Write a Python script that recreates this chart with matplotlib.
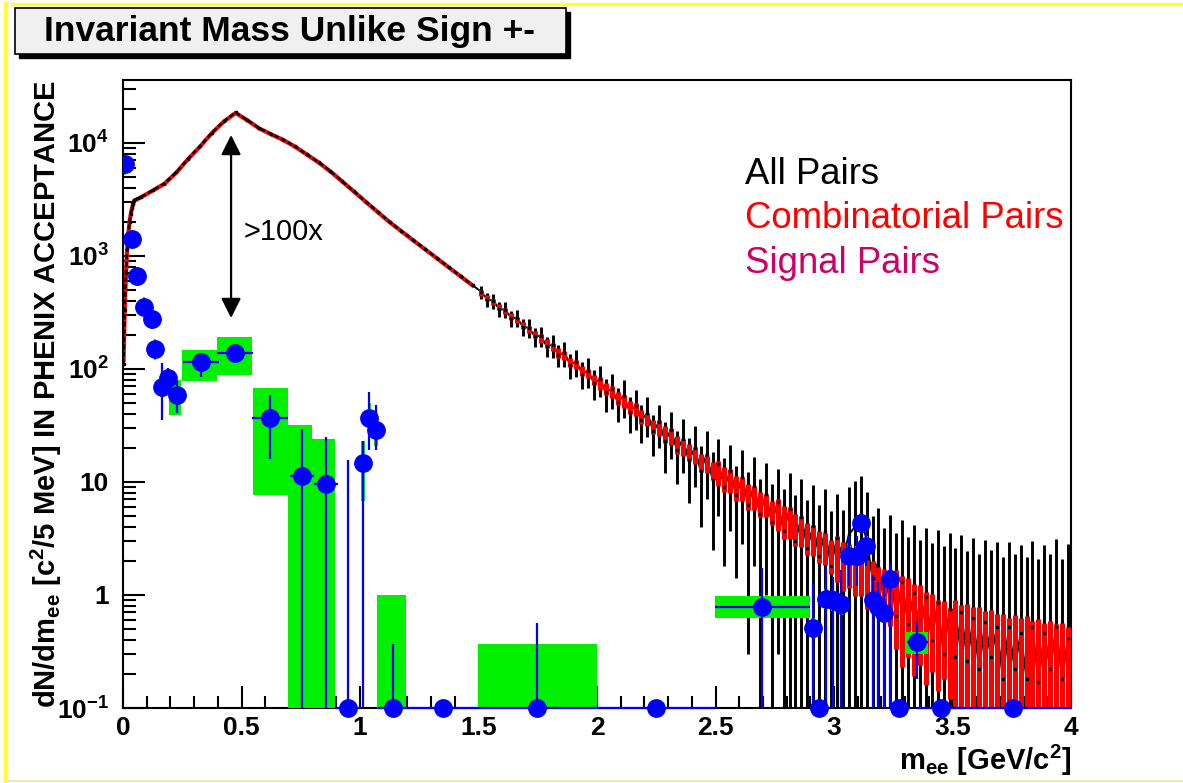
import numpy as np
import matplotlib
matplotlib.use("Agg")
import matplotlib.pyplot as plt
from matplotlib.patches import Rectangle
from matplotlib.lines import Line2D
from matplotlib.ticker import MultipleLocator, NullFormatter, LogLocator

plt.rcParams.update({
    "font.family": ["Liberation Sans", "DejaVu Sans"],
    "mathtext.fontset": "custom",
    "mathtext.rm": "Liberation Sans:bold",
    "mathtext.bf": "Liberation Sans:bold",
    "mathtext.it": "Liberation Sans:bold",
    "mathtext.default": "rm",
})

# ---------------------------------------------------------------- data
# low-mass part (smooth): bin centres [GeV/c^2]
low_mass = [0.0025, 0.0075, 0.0125, 0.0175, 0.0225, 0.0275, 0.0325, 0.0375, 0.0425, 0.0475,
            0.075, 0.125, 0.175, 0.225, 0.275, 0.325, 0.375, 0.425, 0.475, 0.525,
            0.575, 0.625, 0.675, 0.725, 0.775, 0.825, 0.875, 0.925, 0.975, 1.025,
            1.075, 1.125, 1.175, 1.225, 1.275, 1.325, 1.375, 1.425, 1.475]
all_low = [110, 330, 700, 1150, 1600, 2000, 2350, 2650, 2900, 3100,
           3310, 3800, 4370, 5500, 7240, 9330, 12300, 15500, 18600, 15900,
           13500, 12000, 10700, 9330, 7940, 6760, 5620, 4570, 3720, 3020,
           2460, 2000, 1660, 1380, 1150, 955, 794, 661, 550]
comb_low = [120, 350, 690, 1130, 1580, 1980, 2330, 2630, 2880, 3080,
            3290, 3780, 4350, 5460, 7200, 9280, 12200, 15400, 18400, 15800,
            13400, 11900, 10650, 9280, 7900, 6720, 5590, 4550, 3700, 3000,
            2440, 1990, 1650, 1370, 1140, 950, 790, 658, 548]

# high-mass part (noisy), 25 MeV bins from 1.5 to 4.0
hi_mass = np.arange(1.5125, 4.0, 0.025)
all_hi = [480, 410, 402, 338, 335, 282, 284, 236, 231, 194,
          196, 160, 163, 133, 139, 109, 116, 91, 96, 75,
          81, 62, 67, 51, 58, 42, 47, 35, 41, 28,
          34, 23, 29, 19, 24, 15.5, 20, 12.5, 17.5, 10.5,
          14.5, 9.0, 12.5, 7.6, 11.0, 6.3, 9.2, 5.2, 7.8, 4.4,
          6.6, 3.7, 5.8, 3.0, 4.9, 2.6, 4.1, 2.2, 3.7, 1.8,
          3.2, 2.1, 3.4, 4.0, 4.8, 3.1, 1.4, 2.0, 0.8, 1.6,
          0.65, 1.3, 0.55, 1.05, 0.45, 0.95, 0.4, 0.85, 0.3, 0.75,
          0.28, 0.7, 0.26, 0.62, 0.22, 0.58, 0.28, 0.52, 0.18, 0.52,
          0.22, 0.46, 0.18, 0.52, 0.17, 0.46, 0.22, 0.52, 0.18, 0.42]
all_hi_err = [62, 55, 60, 50, 55, 46, 50, 41, 44, 38,
              40, 33, 37, 30, 34, 27, 31, 24, 28, 22,
              25, 20, 23, 17, 21, 15, 18, 13, 16, 11,
              14, 11, 13, 9.5, 12, 9, 11, 8.5, 10.5, 8,
              9.5, 7.2, 8.8, 6.2, 8.2, 6.0, 7.4, 5.5, 6.8, 5.1,
              6.3, 4.9, 6.1, 4.6, 5.7, 4.3, 5.3, 4.0, 5.0, 3.7,
              4.6, 3.6, 5.6, 6.2, 6.6, 5.1, 3.6, 3.9, 3.1, 3.5,
              2.9, 3.3, 2.7, 3.1, 2.6, 3.0, 2.5, 2.9, 2.4, 2.8,
              2.3, 2.7, 2.2, 2.6, 2.1, 2.5, 2.2, 2.4, 2.0, 2.4,
              2.1, 2.3, 2.0, 2.5, 1.9, 2.3, 2.1, 2.6, 1.9, 2.4]
comb_hi = [470, 425, 392, 352, 326, 293, 271, 243, 226, 202,
           188, 168, 157, 139, 131, 115, 109, 96, 91, 80,
           75, 67, 63, 55, 52, 46, 44, 38, 36, 31,
           30.5, 26.5, 25.5, 21.5, 20.5, 18.5, 17.5, 15.0, 14.6, 12.7,
           12.3, 10.8, 10.5, 9.1, 8.9, 7.6, 7.5, 6.5, 6.4, 5.5,
           5.4, 4.6, 4.55, 3.95, 3.8, 3.3, 3.2, 2.8, 2.7, 2.3,
           2.3, 2.0, 2.0, 1.75, 1.7, 1.4, 1.4, 1.2, 1.18, 1.0,
           1.0, 0.85, 0.85, 0.72, 0.73, 0.61, 0.62, 0.52, 0.53, 0.44,
           0.46, 0.40, 0.43, 0.38, 0.40, 0.35, 0.38, 0.33, 0.35, 0.30,
           0.33, 0.29, 0.32, 0.27, 0.30, 0.26, 0.29, 0.25, 0.28, 0.24]
comb_hi_err = [30, 28, 25, 23, 21, 20, 18, 17, 16, 14,
               17, 15, 14, 13, 12, 11, 10, 9.5, 8.5, 8,
               9.5, 8.8, 8.1, 7.3, 6.8, 6.2, 5.8, 5.2, 4.7, 4.3,
               5.0, 4.5, 4.3, 3.8, 3.5, 3.3, 3.0, 2.7, 2.5, 2.3,
               3.0, 2.7, 2.5, 2.3, 2.1, 1.9, 1.8, 1.6, 1.5, 1.35,
               1.7, 1.5, 1.4, 1.25, 1.15, 1.05, 1.0, 0.9, 0.84, 0.76,
               1.0, 0.92, 0.85, 0.77, 0.72, 0.65, 0.6, 0.56, 0.51, 0.47,
               0.67, 0.62, 0.57, 0.53, 0.49, 0.45, 0.41, 0.38, 0.35, 0.32,
               0.44, 0.42, 0.41, 0.40, 0.38, 0.37, 0.36, 0.35, 0.33, 0.32,
               0.34, 0.34, 0.33, 0.32, 0.31, 0.31, 0.30, 0.30, 0.29, 0.28]

# signal pairs (blue points) with non-zero yield
sig_mass = [0.008, 0.039, 0.060, 0.089, 0.121, 0.135, 0.163, 0.191, 0.226, 0.329,
            0.473, 0.620, 0.754, 0.857, 1.014, 1.039, 1.067, 2.697, 2.910, 2.966,
            2.997, 3.028, 3.065, 3.096, 3.112, 3.137, 3.163, 3.187, 3.212, 3.236, 3.351]
sig_val = [6500, 1400, 660, 355, 275, 150, 69, 83, 59, 115,
           138, 37, 11.2, 9.5, 14.6, 37, 29, 0.79, 0.51, 0.93,
           0.90, 0.83, 2.2, 2.2, 4.3, 2.7, 0.90, 0.79, 0.69, 1.38, 0.38]
sig_err_up = [500, 150, 70, 45, 35, 25, 43, 18, 19, 23,
              24, 22, 18, 15.5, 8.4, 26, 19, 0.93, 0.75, 0.85,
              0.55, 0.83, 1.1, 1.1, 1.0, 0.8, 0.6, 0.5, 0.5, 0.5, 0.2]
sig_err_dn = [500, 150, 70, 45, 35, 25, 34, 18, 18, 30,
              18, 21, 11.2, 9.5, 14.6, 18, 10, 0.79, 0.51, 0.93,
              0.90, 0.83, 1.0, 1.0, 0.8, 0.9, 0.90, 0.79, 0.69, 1.38, 0.2]
sig_xerr = [0.004, 0.005, 0.005, 0.005, 0.005, 0.005, 0.005, 0.005, 0.01, 0.077,
            0.075, 0.075, 0.05, 0.05, 0.008, 0.008, 0.008, 0.2, 0.008, 0.008,
            0.008, 0.008, 0.008, 0.008, 0.008, 0.008, 0.008, 0.008, 0.008, 0.008, 0.045]

# signal bins with zero yield (drawn on the lower frame)
zero_mass = [0.950, 1.138, 1.349, 1.748, 2.250, 2.937, 3.276, 3.450, 3.754]
zero_xerr = [0.05, 0.062, 0.15, 0.25, 0.25, 0.035, 0.04, 0.1, 0.25]
zero_err_up = [15.5, 0.27, 0.0, 0.46, 0.0, 0.0, 0.0, 0.0, 0.0]

# systematic boxes (green): x range and y range
sys_x0 = [0.003, 0.034, 0.055, 0.084, 0.116, 0.130, 0.158, 0.186, 0.195, 0.248,
          0.397, 0.547, 0.698, 0.796, 1.005, 1.032, 1.060, 1.073, 1.497, 2.498,
          2.902, 2.958, 2.989, 3.020, 3.057, 3.088, 3.104, 3.129, 3.155, 3.179,
          3.204, 3.228, 3.300]
sys_x1 = [0.013, 0.044, 0.065, 0.094, 0.126, 0.140, 0.168, 0.196, 0.245, 0.395,
          0.545, 0.698, 0.797, 0.895, 1.022, 1.046, 1.074, 1.194, 2.000, 2.899,
          2.918, 2.974, 3.005, 3.036, 3.073, 3.104, 3.120, 3.145, 3.171, 3.195,
          3.220, 3.244, 3.395]
sys_lo = [5200, 1150, 540, 290, 225, 120, 56, 68, 39, 78,
          89, 7.7, 0, 0, 6.8, 26, 21, 0, 0, 0.62,
          0.42, 0.75, 0.72, 0.66, 1.8, 1.8, 3.6, 2.2, 0.75, 0.65,
          0.57, 1.15, 0.30]
sys_hi = [7800, 1700, 800, 430, 330, 185, 84, 100, 80, 148,
          190, 68, 31.6, 24, 23, 50, 38, 1.0, 0.37, 0.98,
          0.62, 1.12, 1.08, 1.0, 2.7, 2.7, 5.2, 3.3, 1.05, 0.95,
          0.82, 1.65, 0.47]

# ---------------------------------------------------------------- figure
W, H = 1183, 783
fig = plt.figure(figsize=(W / 100, H / 100), dpi=100)
ax = fig.add_axes([123 / W, 1 - 708 / H, 948 / W, 628 / H])
ax.set_yscale("log", nonpositive="clip")
ax.set_xlim(0, 4)
ax.set_ylim(0.1, 3.6e4)

FLOOR = 0.02

# all pairs (black) and combinatorial pairs (red)
ax.plot(low_mass, comb_low, color="red", lw=3.0, zorder=2)
ax.plot(low_mass, all_low, color="black", lw=1.8, zorder=3,
        marker="s", ms=1.8, ls=(0, (2, 1)))
ax.plot([0.0425, 0.0475, 0.075], [2900, 3100, 3310], color="black", lw=2.2, zorder=3)

a_hi, a_err = np.array(all_hi), np.array(all_hi_err)
c_hi, c_err = np.array(comb_hi), np.array(comb_hi_err)
ax.vlines(hi_mass, np.maximum(a_hi - a_err, FLOOR), a_hi + a_err,
          color="black", lw=2.1, zorder=2)
ax.plot(np.r_[low_mass[-1], hi_mass], np.r_[all_low[-1], a_hi],
        color="black", lw=1.4, zorder=2)
ax.vlines(hi_mass, np.maximum(c_hi - c_err, FLOOR), c_hi + c_err,
          color="red", lw=3.6, zorder=3)
ax.plot(hi_mass, a_hi, ls="none", marker="s", ms=1.6, color="black", zorder=4)

# systematic boxes
for x0, x1, lo, hi in zip(sys_x0, sys_x1, sys_lo, sys_hi):
    lo = max(lo, FLOOR)
    ax.add_patch(Rectangle((x0, lo), x1 - x0, hi - lo, facecolor="#00f000",
                           edgecolor="none", zorder=5))

# signal points
sv = np.array(sig_val)
ax.errorbar(sig_mass, sig_val, yerr=[np.minimum(sig_err_dn, sv - FLOOR), sig_err_up],
            xerr=sig_xerr, fmt="o", color="#0000ff", ms=12.5, elinewidth=1.6,
            capsize=0, zorder=6)
zy = np.full(len(zero_mass), 0.1)
ax.errorbar(zero_mass, zy, yerr=[np.zeros(len(zero_mass)), zero_err_up],
            xerr=zero_xerr, fmt="o", color="#0000ff", ms=12.5, elinewidth=1.6,
            capsize=0, zorder=7, clip_on=False)

# annotation arrow
ax.annotate("", xy=(0.456, 282), xytext=(0.456, 11750),
            arrowprops=dict(arrowstyle="<|-|>,head_length=0.6,head_width=0.3",
                            mutation_scale=20, lw=1.6, color="black",
                            shrinkA=0, shrinkB=0), zorder=8)
ax.text(0.51, 10 ** 3.21, ">100x", fontsize=21, va="center", ha="left")

# legend text
ax.text(2.625, 10 ** 3.72, "All Pairs", color="black", fontsize=26.3, va="center")
ax.text(2.625, 10 ** 3.33, "Combinatorial Pairs", color="red", fontsize=26.3, va="center")
ax.text(2.625, 10 ** 2.93, "Signal Pairs", color="#cc0066", fontsize=26.3, va="center")

# axes styling
for sp in ax.spines.values():
    sp.set_linewidth(1.5)
ax.xaxis.set_minor_locator(MultipleLocator(0.1))
ax.set_xticks([0, 0.5, 1, 1.5, 2, 2.5, 3, 3.5, 4])
ax.set_xticklabels(["0", "0.5", "1", "1.5", "2", "2.5", "3", "3.5", "4"])
ax.set_yticks([0.1, 1, 10, 100, 1000, 10000])
ax.set_yticklabels([r"10$^{-1}$", "1", "10", r"10$^{2}$", r"10$^{3}$", r"10$^{4}$"])
ax.yaxis.set_minor_locator(LogLocator(base=10, subs=np.arange(2, 10)))
ax.yaxis.set_minor_formatter(NullFormatter())
ax.tick_params(which="major", direction="in", length=16, width=1.5,
               labelsize=19, top=False, right=False)
ax.tick_params(which="minor", direction="in", length=9, width=1.5,
               top=False, right=False)
ax.tick_params(axis="y", pad=10)
ax.tick_params(axis="x", pad=6)
for lab in ax.get_xticklabels() + ax.get_yticklabels():
    lab.set_fontweight("bold")

ax.set_ylabel(r"dN/dm$_{ee}$ [c$^{2}$/5 MeV] IN PHENIX ACCEPTANCE",
              fontsize=21, fontweight="bold")
ax.yaxis.set_label_coords(-0.062, 0.5)
ax.set_xlabel(r"m$_{ee}$ [GeV/c$^{2}$]", fontsize=21, fontweight="bold", ha="right")
ax.xaxis.set_label_coords(1.0, -0.056)

# title box with shadow
fig.add_artist(Rectangle((19 / W, 1 - 58 / H), 551 / W, 46 / H, transform=fig.transFigure,
                         facecolor="black", edgecolor="black"))
fig.add_artist(Rectangle((15 / W, 1 - 54 / H), 551 / W, 46 / H, transform=fig.transFigure,
                         facecolor="#f0f0f0", edgecolor="black", lw=1.2))
fig.text(290 / W, 1 - 32 / H, "Invariant Mass Unlike Sign +-", fontsize=25.5,
         fontweight="bold", ha="center", va="center")

# yellow slide frame
fig.add_artist(Line2D([12 / W, 1], [1 - 4 / H, 1 - 4 / H], transform=fig.transFigure,
                      color="#ffff33", lw=2.5))
fig.add_artist(Line2D([6 / W, 6 / W], [0, 1 - 4 / H], transform=fig.transFigure,
                      color="#ffff33", lw=3))
fig.add_artist(Line2D([6 / W, 1], [2.5 / H, 2.5 / H], transform=fig.transFigure,
                      color="#eeeeaa", lw=1.5))

fig.savefig("out.png", dpi=100)
